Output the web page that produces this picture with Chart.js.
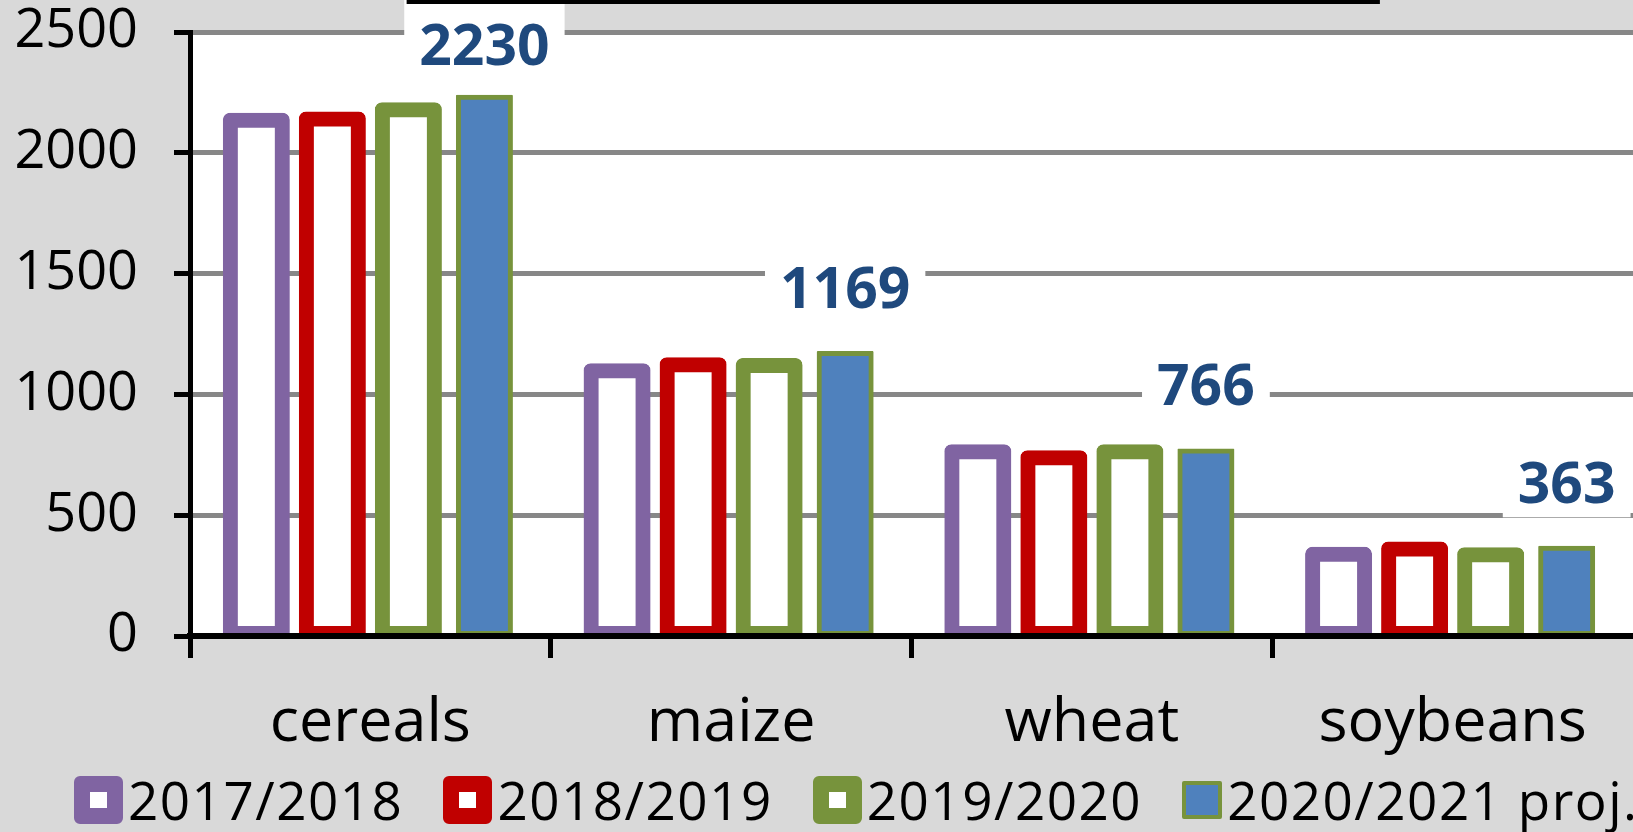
<!DOCTYPE html>
<html>
<head>
<meta charset="utf-8">
<title>World production</title>
<script src="https://cdn.jsdelivr.net/npm/chart.js@4.4.0/dist/chart.umd.min.js"></script>
<style>
  body { margin:0; background:#d9d9d9; font-family:'Open Sans', sans-serif; }
  #wrap { position:relative; width:1633px; height:832px; overflow:hidden; }
  #legend { position:absolute; left:74px; top:772px; display:flex; align-items:center; gap:40px; }
  .item { display:flex; align-items:center; gap:5px; font-size:53px; line-height:56px; letter-spacing:1.5px; color:#000; white-space:nowrap; }
  .box { box-sizing:border-box; width:49px; height:48px; border:16px solid; border-radius:6px; background:#fff; }
  .box.proj { width:40px; height:38px; border-width:4px; border-radius:2px; }
</style>
</head>
<body>
<div id="wrap"><canvas id="chart"></canvas><div id="legend"></div></div>
<script>
const categories = ['cereals', 'maize', 'wheat', 'soybeans'];
const seasons = ['2017/2018', '2018/2019', '2019/2020', '2020/2021 proj.'];
const s2017 = [2135, 1098, 763, 338];
const s2018 = [2140, 1123, 738, 360];
const s2019 = [2178, 1120, 763, 336];
const s2020 = [2230, 1169, 766, 363];
const yMax = 2500, yStep = 500;

const lineColors = ['#8064a2', '#c00000', '#77933c', '#77933c'];
const fillColors = ['#ffffff', '#ffffff', '#ffffff', '#4f81bd'];
const seriesData = [s2017, s2018, s2019, s2020];

// outlined bars: thick border centred on the bar edge (inflateAmount = half border)
function makeSet(i) {
  const proj = i === 3;
  return {
    label: seasons[i],
    data: seriesData[i],
    backgroundColor: fillColors[i],
    borderColor: lineColors[i],
    borderWidth: proj ? 5 : 15,
    inflateAmount: proj ? 2.5 : 7.5,
    borderRadius: proj ? 1 : 7,
    borderSkipped: false,
    clip: { left: false, top: false, right: false, bottom: 0 }
  };
}

function noPadding(s) {
  s.paddingTop = 0; s.paddingBottom = 0; s.paddingLeft = 0; s.paddingRight = 0;
}

const labelPlugin = {
  id: 'valueLabels',
  beforeDraw(chart) {
    const { ctx, chartArea: a } = chart;
    ctx.save();
    ctx.fillStyle = '#ffffff';
    ctx.fillRect(a.left, a.top, chart.width - a.left, a.bottom - a.top);
    ctx.restore();
  },
  afterDraw(chart) {
    const ctx = chart.ctx;
    const meta = chart.getDatasetMeta(3);
    ctx.save();
    ctx.font = 'bold 57px "Open Sans", sans-serif';
    ctx.textAlign = 'center';
    ctx.textBaseline = 'middle';
    meta.data.forEach((bar, i) => {
      const txt = String(s2020[i]);
      const cy = Math.max(bar.y - 64, 47);
      const w = ctx.measureText(txt).width + 30;
      ctx.fillStyle = '#ffffff';
      ctx.fillRect(bar.x - w / 2, cy - 47, w, 80);
      ctx.fillStyle = '#1f497d';
      ctx.fillText(txt, bar.x, cy + 2);
    });
    // edge of the title frame cut at the top
    ctx.fillStyle = '#000';
    ctx.fillRect(chart.width * 0.249, 0, chart.width * 0.596, 4);
    ctx.restore();
  }
};

new Chart(document.getElementById('chart'), {
  type: 'bar',
  data: { labels: categories, datasets: [0, 1, 2, 3].map(makeSet) },
  options: {
    responsive: true,
    maintainAspectRatio: false,
    animation: false,
    categoryPercentage: 0.843,
    barPercentage: 0.684,
    layout: { padding: { top: 32, bottom: 66, left: 0, right: 0 } },
    plugins: { legend: { display: false }, tooltip: { enabled: false } },
    scales: {
      x: {
        afterFit(s) { s.height = 130; noPadding(s); },
        ticks: { color: '#000', font: { family: "'Open Sans', sans-serif", size: 61 }, padding: 29 },
        grid: { drawOnChartArea: false, offset: true, tickLength: 22, tickWidth: 5,
                tickColor: c => c.type === 'tick' ? '#000' : 'rgba(0,0,0,0)' },
        border: { color: '#000', width: 6, z: 1 }
      },
      y: {
        min: 0, max: yMax,
        afterFit(s) { s.width = 190; noPadding(s); },
        ticks: { stepSize: yStep, color: '#000', font: { family: "'Open Sans', sans-serif", size: 54 }, padding: 36,
                 callback: v => String(v) },
        grid: { color: '#878787', lineWidth: 5, tickColor: '#000', tickLength: 16, tickWidth: 5 },
        border: { color: '#000', width: 5, z: 1 }
      }
    }
  },
  plugins: [labelPlugin]
});

// legend
document.getElementById('legend').innerHTML = seasons.map((s, i) =>
  `<div class="item"><span class="box${i === 3 ? ' proj' : ''}" style="border-color:${lineColors[i]};background:${fillColors[i]}"></span>${s}</div>`
).join('');
</script>
</body>
</html>
